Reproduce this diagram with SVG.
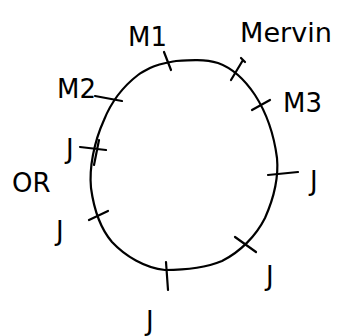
<svg xmlns="http://www.w3.org/2000/svg" width="338" height="336" viewBox="0 0 338 336">
<style>
.ln{fill:none;stroke:#000;stroke-width:2.2;stroke-linecap:round;stroke-linejoin:round}
.lb{font-family:"DejaVu Sans","Liberation Sans",sans-serif;font-size:26px;fill:#000}
</style>
<rect width="338" height="336" fill="#fff"/>
<g id="ring">
<path class="ln" d="M150,68 C158,64 165,63 176,61 C190,60 205,59 218,63 C232,68 245,80 255,95 C266,112 274,135 277,158 C279,180 273,200 265,218 C256,236 240,252 222,261 C205,268 185,270 165,270 C145,268 125,256 112,242 C100,228 94,210 91,188 C89,168 94,142 104,120 C112,100 125,85 138,75 C142,72 146,70 150,68 Z"/>
</g>
<g id="connectors">
<path class="ln" d="M164,52 L171,70"/>
<path class="ln" d="M231,80 L243,60 M241,58 L245,62"/>
<path class="ln" d="M252,110 L270,100"/>
<path class="ln" d="M95,96 L122,101"/>
<path class="ln" d="M80,147 L106,150 M99,140 L94,165"/>
<path class="ln" d="M268,175 L298,172"/>
<path class="ln" d="M89,220 L108,211"/>
<path class="ln" d="M235,237 L256,252"/>
<path class="ln" d="M166,262 L168,290"/>
</g>
<g id="m1"><text class="lb" x="128" y="46">M1</text></g>
<g id="mervin"><text class="lb" x="240" y="42" textLength="92" lengthAdjust="spacingAndGlyphs">Mervin</text></g>
<g id="m3"><text class="lb" x="283" y="112">M3</text></g>
<g id="m2"><text class="lb" x="57" y="98" font-size="22">M2</text></g>
<g id="or"><text class="lb" x="12" y="192">OR</text><text class="lb" x="66" y="158" font-size="20">J</text></g>
<g id="j-left"><text class="lb" x="56" y="240" font-size="22">J</text></g>
<g id="j-right"><text class="lb" x="310" y="190" font-size="30">J</text></g>
<g id="j-lowright"><text class="lb" x="266" y="285" font-size="30">J</text></g>
<g id="j-bottom"><text class="lb" x="146" y="330" font-size="30">J</text></g>
</svg>
